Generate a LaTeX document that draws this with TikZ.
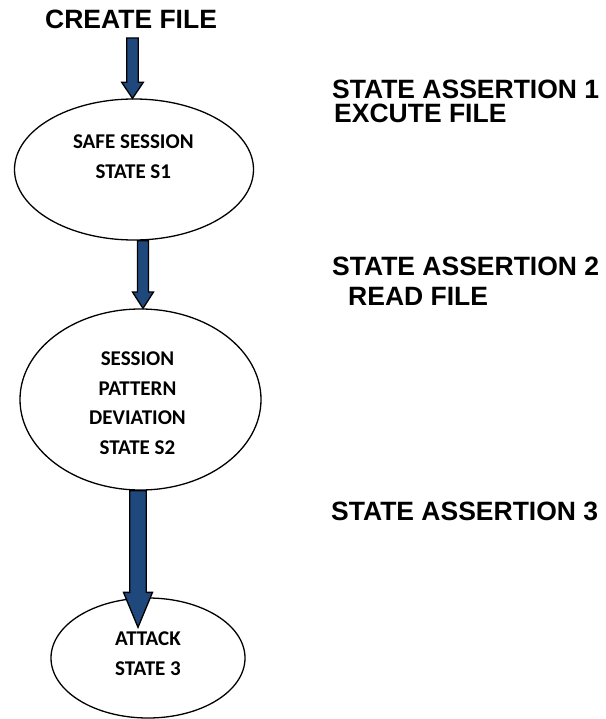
\documentclass[tikz,border=0pt]{standalone}
\usepackage{fontspec}
\setmainfont{Liberation Sans}
\newfontfamily\calibfont{Carlito}
\usetikzlibrary{shapes.geometric,calc}

\definecolor{arrowblue}{RGB}{31,73,125}

% block arrow: from, to, half shaft, half head, head length
\newcommand{\blockarrow}[5]{%
	\filldraw[blockarrow] let \p1=(#1), \p2=(#2) in
		(\x1-#3pt,\y1) -- (\x1-#3pt,\y2+#5pt) -- (\x1-#4pt,\y2+#5pt) -- (\x1,\y2)
		-- (\x1+#4pt,\y2+#5pt) -- (\x1+#3pt,\y2+#5pt) -- (\x1+#3pt,\y1) -- cycle;
}

\tikzset{
	state/.style={shape=ellipse, draw=black, line width=1.3pt, inner sep=0pt},
	statetext/.style={anchor=north, inner sep=0pt, align=center,
		font=\calibfont\bfseries\fontsize{21}{29.5}\selectfont},
	note/.style={anchor=north west, inner sep=0pt, align=left,
		font=\bfseries\fontsize{26.5}{24}\selectfont},
	blockarrow/.style={fill=arrowblue, draw=black, line width=1.3pt, line join=miter}
}

\begin{document}
\begin{tikzpicture}[x=1pt, y=-1pt]
	\useasboundingbox (0,0) rectangle (605,719);

	\node[note] (create) at (45,10) {CREATE FILE};

	\node[state, minimum width=239, minimum height=141] (s1) at (134,169.5) {};
	\node[state, minimum width=241, minimum height=181] (s2) at (140.5,399.5) {};
	\node[state, minimum width=194, minimum height=120] (s3) at (148,658) {};

	\node[statetext] (s1text) at (133.3,135) {SAFE SESSION\\STATE S1};
	\node[statetext] (s2text) at (137.5,352) {SESSION\\PATTERN\\DEVIATION\\STATE S2};
	\node[statetext] (s3text) at (148,632) {ATTACK\\STATE 3};

	\node[note] (assert1) at (332,79.3) {STATE ASSERTION 1\\\hspace*{2pt}EXCUTE FILE};
	\node[note, font=\bfseries\fontsize{26.5}{30}\selectfont] (assert2) at (332,256.7) {STATE ASSERTION 2\\\hspace*{16pt}READ FILE};
	\node[note] (assert3) at (331,501.7) {STATE ASSERTION 3};

	\coordinate (a1top) at (132.5,38);
	\coordinate (a2top) at ($(s1.south)+(9,0)$);
	\coordinate (a3top) at ($(s2.south)+(-2.5,0)$);
	\coordinate (a3tip) at ($(s3.north)+(0,30)$);

	\blockarrow{a1top}{s1.north}{5.8}{10.8}{16}
	\blockarrow{a2top}{s2.north}{5.5}{10.5}{16.3}
	\blockarrow{a3top}{a3tip}{8.3}{14.5}{35}
\end{tikzpicture}
\end{document}
